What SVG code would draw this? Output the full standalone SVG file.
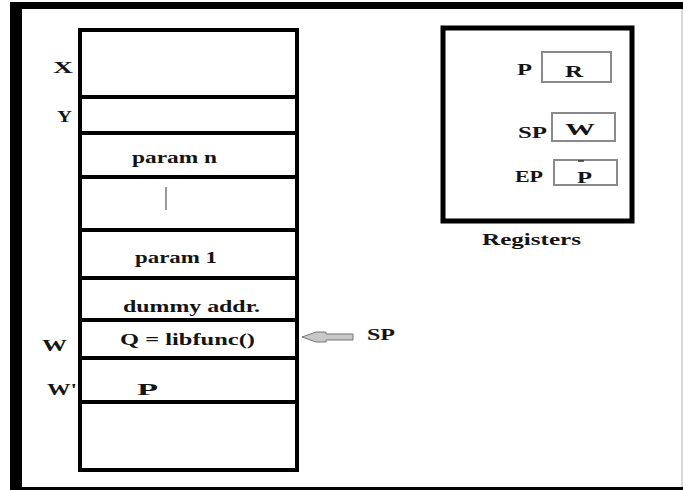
<svg xmlns="http://www.w3.org/2000/svg" width="683" height="490" viewBox="0 0 683 490">
<style>
text{font-family:"Liberation Serif","Times New Roman",serif;font-weight:bold;font-size:16px;fill:#141414;lengthAdjust:spacingAndGlyphs}
.cell{fill:#fff;stroke:#000;stroke-width:4}
.reg{fill:#fff;stroke:#8a8a8a;stroke-width:2}
</style>
<rect width="683" height="490" fill="#fff"/>
<g id="frame">
<rect x="10" y="2" width="673" height="7" fill="#000"/>
<rect x="10" y="2" width="12" height="488" fill="#000"/>
<rect x="10" y="487" width="673" height="3" fill="#000"/>
<line x1="682" y1="9" x2="682" y2="487" stroke="#ccc" stroke-width="1.5"/>
</g>
<g id="stack">
<g id="cell-x"><rect class="cell" x="80" y="30" width="217" height="67"/><text x="53" y="73" textLength="20" lengthAdjust="spacingAndGlyphs">X</text></g>
<g id="cell-y"><rect class="cell" x="80" y="97" width="217" height="36"/><text x="57" y="122" textLength="15" lengthAdjust="spacingAndGlyphs">Y</text></g>
<g id="cell-paramn"><rect class="cell" x="80" y="133" width="217" height="44"/><text x="132" y="163" textLength="85" lengthAdjust="spacingAndGlyphs">param n</text></g>
<g id="cell-dots"><rect class="cell" x="80" y="177" width="217" height="53"/><line x1="166" y1="187" x2="166" y2="210" stroke="#999" stroke-width="2"/></g>
<g id="cell-param1"><rect class="cell" x="80" y="230" width="217" height="48"/><text x="135" y="263" textLength="82" lengthAdjust="spacingAndGlyphs">param 1</text></g>
<g id="cell-dummy"><rect class="cell" x="80" y="278" width="217" height="42"/><text x="123" y="312" textLength="137" lengthAdjust="spacingAndGlyphs">dummy addr.</text></g>
<g id="cell-q"><rect class="cell" x="80" y="320" width="217" height="38"/><text x="120" y="345" textLength="135" lengthAdjust="spacingAndGlyphs">Q = libfunc()</text><text x="42" y="351" textLength="25" lengthAdjust="spacingAndGlyphs">W</text></g>
<g id="cell-p"><rect class="cell" x="80" y="358" width="217" height="44"/><text x="137" y="395" textLength="21" lengthAdjust="spacingAndGlyphs">P</text><text x="47" y="395" textLength="30" lengthAdjust="spacingAndGlyphs">W'</text></g>
<g id="cell-bottom"><rect class="cell" x="80" y="402" width="217" height="68"/></g>
</g>
<g id="registers">
<rect x="443" y="28" width="189" height="193" fill="#fff" stroke="#000" stroke-width="5"/>
<text x="482" y="245" textLength="99" lengthAdjust="spacingAndGlyphs">Registers</text>
<g id="reg-p"><rect class="reg" x="542" y="52" width="69" height="30"/><text x="517" y="75" textLength="15" lengthAdjust="spacingAndGlyphs">P</text><text x="565" y="77" textLength="18" lengthAdjust="spacingAndGlyphs">R</text></g>
<g id="reg-sp"><rect class="reg" x="552" y="113" width="63" height="28"/><text x="518" y="138" textLength="29" lengthAdjust="spacingAndGlyphs">SP</text><text x="565" y="135" textLength="30" lengthAdjust="spacingAndGlyphs">W</text></g>
<g id="reg-ep"><rect class="reg" x="554" y="160" width="63" height="25"/><text x="515" y="182" textLength="28" lengthAdjust="spacingAndGlyphs">EP</text><text x="577" y="183" textLength="15" lengthAdjust="spacingAndGlyphs">P</text><line x1="578" y1="161" x2="584" y2="161" stroke="#333" stroke-width="1.5"/></g>
</g>
<g id="connectors">
<path d="M302,337 L316,332 L326,332 L326,334 L353,334 L353,340 L326,340 L326,342 L316,342 Z" fill="#c8c8c8" stroke="#777" stroke-width="1"/>
<text x="367" y="340" textLength="28" lengthAdjust="spacingAndGlyphs">SP</text>
</g>
</svg>
